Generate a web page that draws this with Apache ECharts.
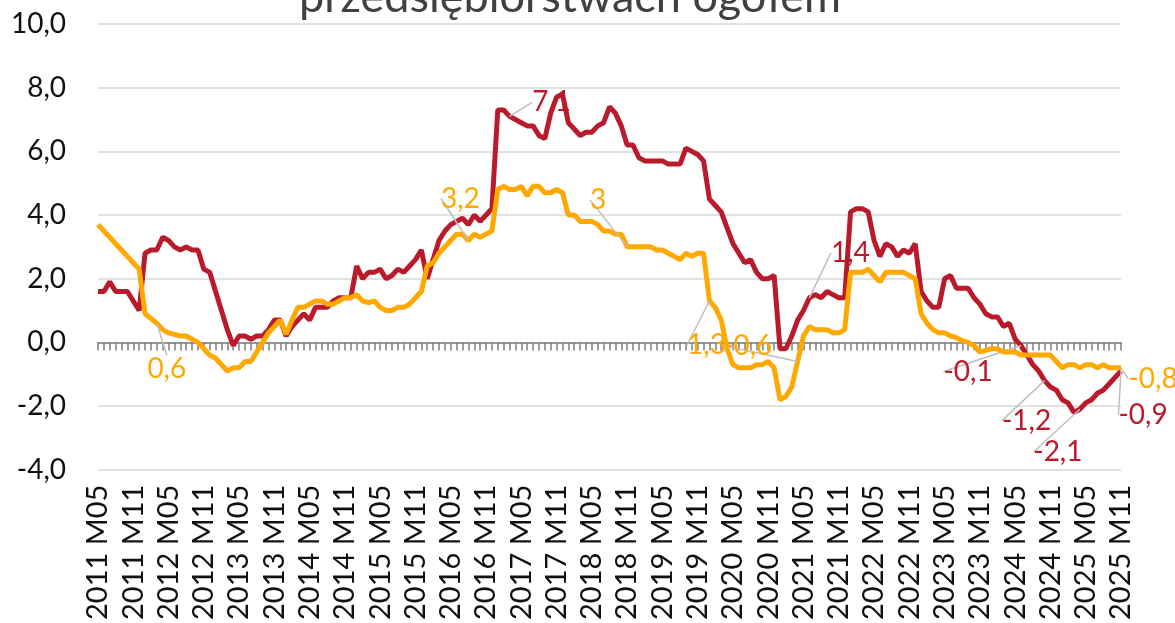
<!DOCTYPE html>
<html>
<head>
<meta charset="utf-8">
<script src="https://cdn.jsdelivr.net/npm/echarts@6/dist/echarts.min.js"></script>
<style>
html,body{margin:0;padding:0;background:#fff;}
#chart{width:1175px;height:623px;}
</style>
</head>
<body>
<div id="chart"></div>
<script>
// ---- categories (monthly, 2011 M05 .. 2025 M11) ----
const startYear = 2011, startMonth = 5, monthCount = 175;
const categories = [];
for (let k = 0; k < monthCount; k++) {
  const m = startMonth - 1 + k;
  categories.push((startYear + Math.floor(m / 12)) + ' M' + String(m % 12 + 1).padStart(2, '0'));
}

// ---- series values ----
const redValues = [
  1.6,1.6,1.9,1.6,1.6,1.6,1.3,1.0,2.8,2.9,
  2.9,3.3,3.2,3.0,2.9,3.0,2.9,2.9,2.3,2.2,
  1.6,1.0,0.4,-0.1,0.2,0.2,0.1,0.2,0.2,0.4,
  0.7,0.7,0.2,0.5,0.7,0.9,0.7,1.1,1.1,1.1,
  1.3,1.4,1.4,1.4,2.4,2.0,2.2,2.2,2.3,2.0,
  2.1,2.3,2.2,2.4,2.6,2.9,2.0,2.6,3.2,3.5,
  3.7,3.8,3.9,3.7,4.0,3.8,4.0,4.2,7.3,7.3,
  7.1,7.0,6.9,6.8,6.8,6.5,6.4,7.2,7.7,7.8,
  6.9,6.7,6.5,6.6,6.6,6.8,6.9,7.4,7.2,6.8,
  6.2,6.2,5.8,5.7,5.7,5.7,5.7,5.6,5.6,5.6,
  6.1,6.0,5.9,5.7,4.5,4.3,4.1,3.6,3.1,2.8,
  2.5,2.6,2.2,2.0,2.0,2.1,-0.2,-0.2,0.2,0.7,
  1.0,1.4,1.5,1.4,1.6,1.5,1.4,1.4,4.1,4.2,
  4.2,4.1,3.2,2.7,3.1,3.0,2.7,2.9,2.8,3.1,
  1.6,1.3,1.1,1.1,2.0,2.1,1.7,1.7,1.7,1.4,
  1.2,0.9,0.8,0.8,0.5,0.6,0.1,-0.1,-0.4,-0.7,
  -0.9,-1.2,-1.4,-1.5,-1.8,-1.9,-2.2,-2.1,-1.9,-1.8,
  -1.6,-1.5,-1.3,-1.1,-0.9
];
const orangeValues = [
  3.7,3.5,3.3,3.1,2.9,2.7,2.5,2.3,0.9,0.75,
  0.6,0.4,0.3,0.25,0.2,0.2,0.1,0.0,-0.2,-0.4,
  -0.5,-0.7,-0.9,-0.8,-0.8,-0.6,-0.6,-0.3,0.0,0.3,
  0.5,0.7,0.25,0.7,1.1,1.1,1.2,1.3,1.3,1.2,
  1.2,1.3,1.4,1.4,1.5,1.3,1.25,1.3,1.1,1.0,
  1.0,1.1,1.1,1.2,1.4,1.6,2.4,2.5,2.8,3.0,
  3.2,3.4,3.4,3.2,3.4,3.3,3.4,3.5,4.8,4.9,
  4.8,4.8,4.9,4.6,4.9,4.9,4.7,4.7,4.8,4.7,
  4.0,4.0,3.8,3.8,3.8,3.7,3.5,3.5,3.4,3.4,
  3.0,3.0,3.0,3.0,3.0,2.9,2.9,2.8,2.7,2.6,
  2.8,2.7,2.8,2.8,1.3,1.1,0.7,-0.2,-0.7,-0.8,
  -0.8,-0.8,-0.7,-0.7,-0.6,-0.8,-1.8,-1.7,-1.4,-0.6,
  0.2,0.5,0.4,0.4,0.4,0.3,0.3,0.4,2.2,2.2,
  2.2,2.3,2.1,1.9,2.2,2.2,2.2,2.2,2.1,2.0,
  0.9,0.6,0.4,0.3,0.3,0.2,0.15,0.05,0.0,-0.1,
  -0.3,-0.25,-0.2,-0.2,-0.3,-0.3,-0.3,-0.4,-0.4,-0.4,
  -0.4,-0.4,-0.4,-0.6,-0.8,-0.7,-0.7,-0.8,-0.7,-0.7,
  -0.8,-0.7,-0.8,-0.8,-0.8
];

// ---- y axis ticks ----
const yMin = -4, yMax = 10, yStep = 2;

// ---- which points carry data labels ----
const redLabelIdx = [70, 121, 157, 161, 167, 174];
const orangeLabelIdx = [10, 63, 90, 104, 119, 174];

// label displacement (layout only)
const redLabelShift = {70:[42,-14],121:[41,-45],157:[-53,26],161:[-18,40],167:[-22,43],174:[22,44]};
const orangeLabelShift = {10:[10,46],63:[-8,-42],90:[-29,-47],104:[-3,44],119:[-50,-16],174:[32,11]};

const RED = '#BA1B2C';
const ORANGE = '#FFA800';
const FONT = 'Lato';

function fmt(v) { return String(v).replace('.', ','); }

function buildData(values, idxList) {
  return values.map((v, i) => idxList.indexOf(i) >= 0
    ? { value: v, label: { show: true } }
    : v);
}

const chart = echarts.init(document.getElementById('chart'), null, { renderer: 'canvas' });

const labelCommon = {
  show: false,
  position: 'inside',
  fontFamily: FONT,
  fontSize: 28,
  formatter: p => fmt(p.value)
};

chart.setOption({
  animation: false,
  backgroundColor: '#ffffff',
  graphic: [{
    type: 'text',
    x: 570, y: -3,
    style: {
      text: 'przedsiębiorstwach ogółem',
      x: 0, y: 0,
      textAlign: 'center',
      textVerticalAlign: 'middle',
      fontFamily: FONT,
      fontSize: 45,
      fill: '#404040'
    }
  }],
  grid: { left: 98, right: 54, top: 24, bottom: 153, containLabel: false },
  xAxis: [
    {
      type: 'category',
      data: categories,
      boundaryGap: false,
      position: 'bottom',
      axisLine: { show: false, onZero: false },
      axisTick: { show: false },
      splitLine: { show: false },
      axisLabel: {
        interval: 5,
        rotate: 90,
        margin: 15,
        fontFamily: FONT,
        fontSize: 29,
        color: '#111'
      }
    },
    {
      type: 'category',
      data: categories,
      boundaryGap: false,
      position: 'top',
      axisLine: { show: true, onZero: true, lineStyle: { color: '#7F7F7F', width: 1.5 } },
      axisTick: { show: true, inside: true, interval: 0, length: 8, lineStyle: { color: '#7F7F7F', width: 1.5 } },
      axisLabel: { show: false },
      splitLine: { show: false }
    }
  ],
  yAxis: {
    type: 'value',
    min: yMin, max: yMax, interval: yStep,
    axisLine: { show: false },
    axisTick: { show: false },
    splitLine: { show: true, lineStyle: { color: '#D9D9D9', width: 1.5 } },
    axisLabel: {
      margin: 32,
      fontFamily: FONT,
      fontSize: 28,
      color: '#111',
      formatter: v => v.toFixed(1).replace('.', ',')
    }
  },
  series: [
    {
      name: 'Seria 1',
      type: 'line',
      xAxisIndex: 0,
      data: buildData(redValues, redLabelIdx),
      showSymbol: true,
      showAllSymbol: true,
      symbol: 'circle',
      symbolSize: 0,
      lineStyle: { color: RED, width: 5 },
      itemStyle: { color: RED },
      label: Object.assign({}, labelCommon, { color: RED }),
      labelLine: { show: true, length2: 10, lineStyle: { color: '#BFBFBF', width: 1.5 } },
      labelLayout: p => {
        const s = redLabelShift[p.dataIndex];
        return s ? { dx: s[0], dy: s[1] } : {};
      },
      z: 2
    },
    {
      name: 'Seria 2',
      type: 'line',
      xAxisIndex: 0,
      data: buildData(orangeValues, orangeLabelIdx),
      showSymbol: true,
      showAllSymbol: true,
      symbol: 'circle',
      symbolSize: 0,
      lineStyle: { color: ORANGE, width: 5 },
      itemStyle: { color: ORANGE },
      label: Object.assign({}, labelCommon, { color: ORANGE }),
      labelLine: { show: true, length2: 10, lineStyle: { color: '#BFBFBF', width: 1.5 } },
      labelLayout: p => {
        const s = orangeLabelShift[p.dataIndex];
        return s ? { dx: s[0], dy: s[1] } : {};
      },
      z: 3
    }
  ]
});
</script>
</body>
</html>
